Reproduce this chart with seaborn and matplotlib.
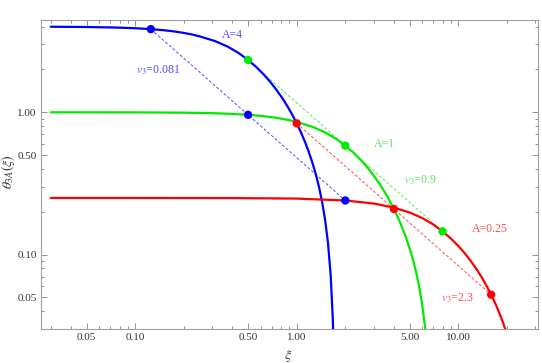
import matplotlib
matplotlib.use("Agg")
import matplotlib.pyplot as plt
import matplotlib.ticker as mticker
import seaborn as sns
import pandas as pd

# ---- data ----
xi_A4 = [0.03, 0.05, 0.075, 0.1, 0.125, 0.15, 0.175, 0.2, 0.225, 0.25, 0.3125, 0.375,
         0.4375, 0.5, 0.5625, 0.625, 0.6875, 0.75, 0.8125, 0.875, 0.9375, 1.0, 1.0625,
         1.125, 1.1875, 1.25, 1.3125, 1.375, 1.4375, 1.5, 1.5625, 1.625, 1.675, 1.7]
th_A4 = [3.9904, 3.9735, 3.9408, 3.8958, 3.8394, 3.7723, 3.6957, 3.6107, 3.5184, 3.4202,
         3.1624, 2.8883, 2.6048, 2.3313, 2.0772, 1.8424, 1.6296, 1.4366, 1.262, 1.1052,
         0.9636, 0.836, 0.7228, 0.6204, 0.5276, 0.4432, 0.3676, 0.2984, 0.234, 0.1748,
         0.1208, 0.0708, 0.0344, 0.0168]

xi_A1 = [0.03, 0.1, 0.2, 0.3, 0.4, 0.5, 0.6, 0.7, 0.8, 0.9, 1.0, 1.25, 1.5, 1.75, 2.0,
         2.25, 2.5, 2.75, 3.0, 3.25, 3.5, 3.75, 4.0, 4.25, 4.5, 4.75, 5.0, 5.25, 5.5,
         5.75, 6.0, 6.25, 6.5]
th_A1 = [0.99985, 0.99833, 0.99337, 0.98520, 0.97396, 0.95984, 0.94307, 0.92392, 0.90267,
         0.87961, 0.85505, 0.7906, 0.72207, 0.6512, 0.58282, 0.5193, 0.4606, 0.4074,
         0.35915, 0.3155, 0.2763, 0.2409, 0.2090, 0.1807, 0.1551, 0.1319, 0.1108,
         0.0919, 0.0746, 0.0585, 0.0437, 0.0302, 0.0177]

xi_A025 = [0.03, 0.1, 0.4, 1.0, 2.0, 3.0, 4.0, 5.0, 6.0, 7.0, 8.0, 9.0, 10.0, 11.0, 12.0,
           13.0, 14.0, 15.0, 16.0, 17.0, 18.0, 19.0, 20.0, 21.0, 22.0]
th_A025 = [0.25, 0.24997, 0.24958, 0.24744, 0.23996, 0.22839, 0.21376, 0.19765, 0.18052,
           0.1628, 0.14571, 0.12983, 0.11515, 0.10185, 0.08979, 0.07888, 0.06908,
           0.06023, 0.05225, 0.04518, 0.03878, 0.03298, 0.0277, 0.0230, 0.01865]

# homology points (v3 = 0.081, 0.9, 2.3)
pts_blue_xi = [0.125, 0.5, 2.0]
pts_blue_th = [3.8394, 0.95984, 0.23996]
pts_green_xi = [0.5, 2.0, 8.0]
pts_green_th = [2.3313, 0.58282, 0.14571]
pts_red_xi = [1.0, 4.0, 16.0]
pts_red_th = [0.836, 0.2090, 0.05225]

curve_labels = ["A=4", "A=1", "A=0.25"]
v3_labels = [r"$v_3$=0.081", r"$v_3$=0.9", r"$v_3$=2.3"]

x_ticks = [0.05, 0.10, 0.50, 1.00, 5.00, 10.00]
y_ticks = [0.05, 0.10, 0.50, 1.00]

# ---- style ----
sns.set_theme(style="ticks")
plt.rcParams["font.family"] = ["Liberation Serif", "DejaVu Serif"]
plt.rcParams["mathtext.fontset"] = "stix"

BLUE = (0.0, 0.0, 1.0)
GREEN = (0.0, 0.92, 0.0)
RED = (1.0, 0.0, 0.0)
BLUE_L = (0.3, 0.3, 1.0)
GREEN_L = (0.35, 0.9, 0.35)
RED_L = (1.0, 0.3, 0.3)

fig = plt.figure(figsize=(5.42, 3.63), dpi=100)
ax = fig.add_axes([0.0756, 0.0937, 0.917, 0.8512])

ax.set_xscale("log")
ax.set_yscale("log")

# dashed homology lines
for xs, ys, c in [(pts_blue_xi, pts_blue_th, BLUE_L),
                  (pts_green_xi, pts_green_th, GREEN_L),
                  (pts_red_xi, pts_red_th, RED_L)]:
    ax.plot(xs, ys, ls=(0, (3, 2)), lw=0.7, color=c, zorder=2)

# curves
for xs, ys, c in [(xi_A4, th_A4, BLUE), (xi_A1, th_A1, GREEN), (xi_A025, th_A025, RED)]:
    df = pd.DataFrame({"xi": xs, "theta": ys})
    sns.lineplot(data=df, x="xi", y="theta", ax=ax, color=c, lw=1.6,
                 estimator=None, sort=False, zorder=3)

# markers
for xs, ys, c in [(pts_blue_xi, pts_blue_th, BLUE),
                  (pts_green_xi, pts_green_th, GREEN),
                  (pts_red_xi, pts_red_th, RED)]:
    sns.scatterplot(x=xs, y=ys, ax=ax, color=c, s=36, edgecolor="none", zorder=4)

# annotations
fs = 8.5
ax.text(0.3975, 3.49, curve_labels[0], color=BLUE_L, fontsize=fs, ha="center", va="center")
ax.text(0.1384, 1.98, v3_labels[0], color=BLUE_L, fontsize=fs, ha="center", va="center")
ax.text(3.47, 0.598, curve_labels[1], color=GREEN_L, fontsize=fs, ha="center", va="center")
ax.text(5.87, 0.3346, v3_labels[1], color=GREEN_L, fontsize=fs, ha="center", va="center")
ax.text(15.74, 0.1515, curve_labels[2], color=RED_L, fontsize=fs, ha="center", va="center")
ax.text(9.83, 0.0496, v3_labels[2], color=RED_L, fontsize=fs, ha="center", va="center")

ax.set_xlim(0.0261, 31.2)
ax.set_ylim(0.030, 4.45)

ax.xaxis.set_major_locator(mticker.FixedLocator(x_ticks))
ax.xaxis.set_major_formatter(mticker.FixedFormatter([f"{v:.2f}" for v in x_ticks]))
ax.xaxis.set_minor_locator(mticker.LogLocator(base=10, subs=range(1, 10), numticks=20))
ax.xaxis.set_minor_formatter(mticker.NullFormatter())
ax.yaxis.set_major_locator(mticker.FixedLocator(y_ticks))
ax.yaxis.set_major_formatter(mticker.FixedFormatter([f"{v:.2f}" for v in y_ticks]))
ax.yaxis.set_minor_locator(mticker.LogLocator(base=10, subs=range(1, 10), numticks=20))
ax.yaxis.set_minor_formatter(mticker.NullFormatter())

for sp in ax.spines.values():
    sp.set_visible(True)
    sp.set_color("#a0a0a0")
    sp.set_linewidth(0.8)

ax.tick_params(which="both", direction="in", top=True, right=True, color="#808080",
               labelsize=8, labelcolor="#333333", width=0.6)
ax.tick_params(which="major", length=4.5, pad=3)
ax.tick_params(which="minor", length=2.5)

ax.set_xlabel(r"$\xi$", fontsize=10, color="#333333", va="center")
ax.set_ylabel(r"$\theta_{3A}(\xi)$", fontsize=10, color="#333333", va="center")
ax.xaxis.set_label_coords(0.497, -0.087)
ax.yaxis.set_label_coords(-0.066, 0.511)

fig.savefig("out.png", dpi=100)
